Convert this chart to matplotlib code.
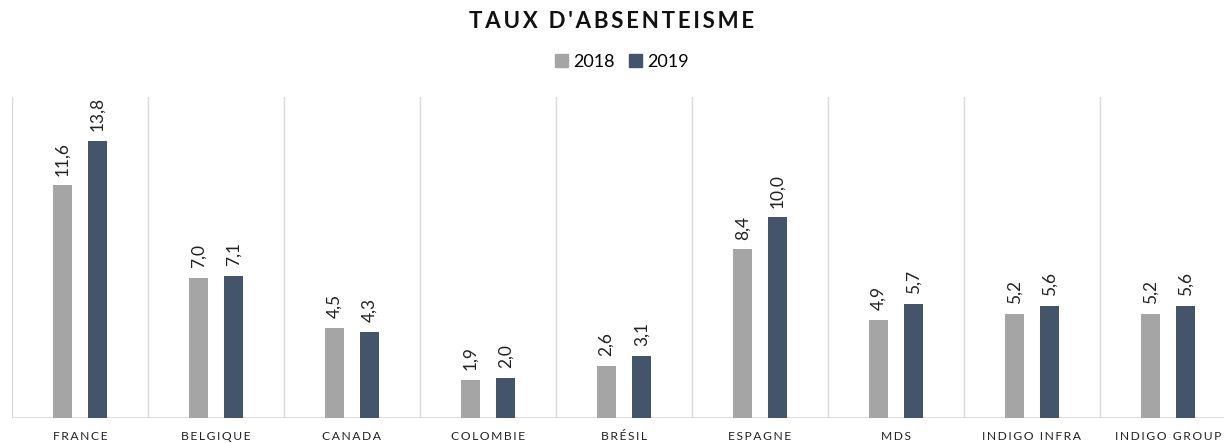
import matplotlib
matplotlib.use("Agg")
import matplotlib.pyplot as plt
from matplotlib.patches import Patch
import numpy as np

categories = ["FRANCE", "BELGIQUE", "CANADA", "COLOMBIE", "BRÉSIL", "ESPAGNE", "MDS", "INDIGO INFRA", "INDIGO GROUP"]
v2018 = [11.6, 7.0, 4.5, 1.9, 2.6, 8.4, 4.9, 5.2, 5.2]
v2019 = [13.8, 7.1, 4.3, 2.0, 3.1, 10.0, 5.7, 5.6, 5.6]
series_labels = ["2018", "2019"]
title = "TAUX D'ABSENTEISME"

c2018 = "#a5a5a5"
c2019 = "#44546a"
fam = ["Lato", "DejaVu Sans"]
plt.rcParams["font.family"] = fam

def spaced(s, sp="\u2009"):
    return sp.join(list(s))

W, H = 1224, 443
fig = plt.figure(figsize=(W / 100, H / 100), dpi=100)
left = 12 / W
right_px = 12 + 136 * 9
ax = fig.add_axes([left, 25 / H, (right_px - 12) / W, (418 - 97) / H])

x = np.arange(len(categories))
bw = 0.14
off = 0.13
b1 = ax.bar(x - off, v2018, bw, color=c2018, label=series_labels[0], zorder=3)
b2 = ax.bar(x + off, v2019, bw, color=c2019, label=series_labels[1], zorder=3)

for bars, vals in ((b1, v2018), (b2, v2019)):
    for rect, v in zip(bars, vals):
        ax.annotate(f"{v:.1f}".replace(".", ","),
                    (rect.get_x() + rect.get_width() / 2, rect.get_height()),
                    xytext=(0, 7), textcoords="offset points",
                    rotation=90, ha="center", va="bottom", fontsize=12.5, color="#222222")

ax.set_xlim(-0.5, len(categories) - 0.5)
ax.set_ylim(0, 16)
for i in range(len(categories)):
    ax.axvline(i - 0.5, color="#d9d9d9", lw=1, zorder=1)
for s in ax.spines.values():
    s.set_visible(False)
ax.axhline(0, color="#d9d9d9", lw=1.2, zorder=2)
ax.set_yticks([])
ax.set_xticks(x)
ax.set_xticklabels([spaced(c) for c in categories], fontsize=8.7, color="#222222")
ax.tick_params(axis="x", length=0, pad=9)

fig.text(0.5, 1 - 22 / H, spaced(title), ha="center", va="center",
         fontsize=16, fontweight="bold", color="#111111")

handles = [Patch(color=c2018, label=series_labels[0]), Patch(color=c2019, label=series_labels[1])]
fig.legend(handles=handles, loc="center", bbox_to_anchor=(622 / W, 1 - 62 / H), ncol=2,
           frameon=False, fontsize=13, handlelength=0.7, handleheight=0.7,
           handletextpad=0.3, columnspacing=0.8)

fig.savefig("out.png", dpi=100)
